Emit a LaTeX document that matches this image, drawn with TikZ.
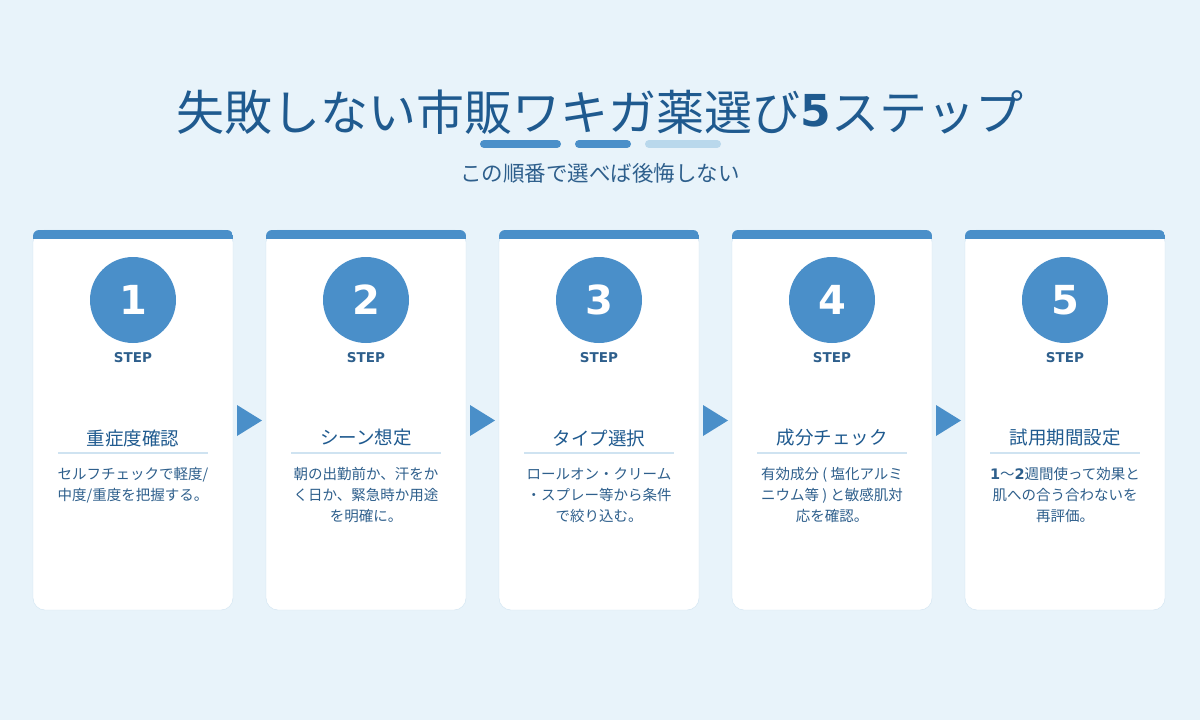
\documentclass[tikz,border=0pt]{standalone}
\usepackage{fontspec}
\setmainfont{Noto Sans CJK JP}
\newfontfamily\numfont{DejaVu Sans}
\usetikzlibrary{positioning}
\definecolor{bgblue}{HTML}{E8F3FA}
\definecolor{mainblue}{HTML}{4A8FC9}
\definecolor{darkblue}{HTML}{1F5A8F}
\definecolor{textblue}{HTML}{2E5F8C}
\definecolor{paleblue}{HTML}{B9D8EC}
\definecolor{lineblue}{HTML}{CFE3F1}
\tikzset{
  card/.style={draw=lineblue, fill=white, rounded corners=12pt},
  stepnum/.style={circle, fill=mainblue, minimum size=86pt, inner sep=0pt,
    text=white, font=\numfont\bfseries\fontsize{40}{40}\selectfont},
  steplabel/.style={text=textblue, font=\numfont\bfseries\fontsize{13.5}{13.5}\selectfont},
  steptitle/.style={text=darkblue, font=\fontsize{18.5}{18.5}\selectfont},
  stepdesc/.style={text=textblue, align=center, font=\fontsize{14.5}{21}\selectfont},
  flowarrow/.style={fill=mainblue}
}
\begin{document}
\begin{tikzpicture}[x=1pt,y=-1pt]
  \fill[bgblue] (0,0) rectangle (1200,720);
  \useasboundingbox (0,0) rectangle (1200,720);
  % title
  \node[text=darkblue, font=\fontsize{48}{48}\selectfont] (title) at (600,112)
    {失敗しない市販ワキガ薬選び{\numfont\bfseries\fontsize{44}{44}\selectfont\raisebox{4pt}{5}}ステップ};
  \draw[mainblue, line width=8pt, line cap=round] (484,144) -- (557,144);
  \draw[mainblue, line width=8pt, line cap=round] (579,144) -- (627,144);
  \draw[paleblue, line width=8pt, line cap=round] (649,144) -- (717,144);
  \node[text=textblue, font=\fontsize{21.5}{21.5}\selectfont] (subtitle) at (600,173)
    {この順番で選べば後悔しない};
  % cards
  \foreach \i/\ttl/\desc in {
    1/重症度確認/{セルフチェックで軽度/\\中度/重度を把握する。},
    2/シーン想定/{朝の出勤前か、汗をか\\く日か、緊急時か用途\\を明確に。},
    3/タイプ選択/{ロールオン・クリーム\\・スプレー等から条件\\で絞り込む。},
    4/成分チェック/{有効成分 ( 塩化アルミ\\ニウム等 ) と敏感肌対\\応を確認。},
    5/試用期間設定/{{\numfont\bfseries 1}〜{\numfont\bfseries 2}週間使って効果と\\肌への合う合わないを\\再評価。}} {
    \pgfmathsetmacro{\cx}{133+233*(\i-1)}
    \draw[card] (\cx-100,230) rectangle (\cx+100,610);
    \begin{scope}
      \clip[rounded corners=6pt] (\cx-100,230) rectangle (\cx+100,250);
      \fill[mainblue] (\cx-100,230) rectangle (\cx+100,238.5);
    \end{scope}
    \node[stepnum] (num\i) at (\cx,300) {\i};
    \node[steplabel] (lab\i) at (\cx,358) {STEP};
    \node[steptitle] (ttl\i) at (\cx,438) {\ttl};
    \draw[lineblue, line width=1.5pt] (\cx-75,453) -- (\cx+75,453);
    \node[stepdesc, anchor=north] (desc\i) at (\cx,464) {\desc};
  }
  % arrows between cards
  \foreach \j in {1,...,4} {
    \pgfmathsetmacro{\ax}{237+233*(\j-1)}
    \fill[flowarrow] (\ax,405) -- (\ax+25,420.5) -- (\ax,436) -- cycle;
  }
\end{tikzpicture}
\end{document}
